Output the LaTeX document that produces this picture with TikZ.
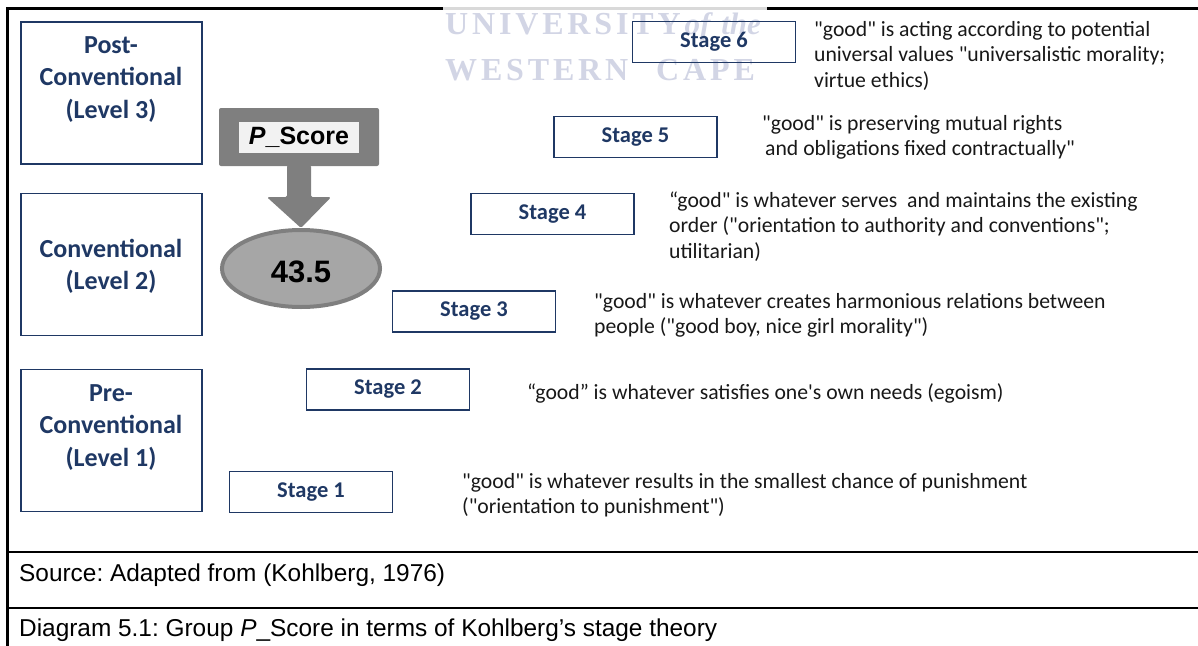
\documentclass[tikz,border=0pt]{standalone}
\usepackage{fontspec}
\setmainfont{Carlito}[Ligatures=TeXOff]
\newfontfamily\arialfont{Liberation Sans}[Ligatures=TeXOff]
\newfontfamily\wmfont{Liberation Serif}[LetterSpace=12]
\newfontfamily\wmitalic{Liberation Serif}[Ligatures=TeXOff]
\usetikzlibrary{calc,shapes.geometric}

\definecolor{navy}{RGB}{31,56,100}
\definecolor{ink}{RGB}{24,24,24}
\definecolor{calloutgray}{RGB}{127,127,127}
\definecolor{ovalgray}{RGB}{166,166,166}
\definecolor{labelgray}{RGB}{242,242,242}
\definecolor{wmcolor}{RGB}{210,213,229}

% several lines, first-line baseline as the node baseline
\newcommand{\stacklines}[2]{\begin{tabular}[t]{@{}#1@{}}#2\end{tabular}}

\tikzset{
  levelbox/.style={draw=navy, line width=1.8, minimum width=181, minimum height=142, inner sep=0},
  leveltext/.style={text=navy, inner sep=0, font=\bfseries\fontsize{26}{32.5}\selectfont},
  stagebox/.style={draw=navy, line width=1.8, minimum width=163, minimum height=41, inner sep=0,
    text=navy, font=\bfseries\fontsize{22.5}{27}\selectfont},
  desc/.style={text=ink, inner sep=0, anchor=base west, font=\fontsize{21.7}{25.8}\selectfont},
  footer/.style={text=black, inner sep=0, anchor=base west, font=\arialfont\fontsize{24.4}{29}\selectfont},
  wm/.style={text=wmcolor, inner sep=0, anchor=base west, font=\wmfont\bfseries\fontsize{32}{32}\selectfont},
  frameline/.style={draw=black, line cap=rect}
}

\begin{document}
\frenchspacing
\begin{tikzpicture}[x=1pt,y=-1pt]
\useasboundingbox (0,0) rectangle (1198,645);

% table frame
\draw[frameline, line width=3] (7,645) -- (7,8) -- (1198,8);
\draw[frameline, line width=2.5] (7,552) -- (1198,552);
\draw[frameline, line width=2.5] (7,608) -- (1198,608);

% faint watermark
\fill[white, opacity=0.85] (443,0) rectangle (767,84);
\node[wm] (wm1) at (445,34) {UNIVERSITY\hspace{4pt}{\wmitalic\bfseries\itshape\fontsize{31}{31}\selectfont of\hspace{3pt} the}};
\node[wm] (wm2) at (445,80) {WESTERN\hspace{28pt}CAPE};

% levels
\node[levelbox] (lv3) at (111.5,93) {};
\node[leveltext, anchor=base] (lv3t) at (111,53) {\stacklines{c}{Post-\\Conventional\\(Level 3)}};
\node[levelbox] (lv2) at (111.5,264.5) {};
\node[leveltext, anchor=base] (lv2t) at (111,257) {\stacklines{c}{Conventional\\(Level 2)}};
\node[levelbox] (lv1) at (111.5,440.5) {};
\node[leveltext, anchor=base] (lv1t) at (111,401) {\stacklines{c}{Pre-\\Conventional\\(Level 1)}};

% stages
\node[stagebox] (s1) at (311,492) {Stage 1};
\node[stagebox] (s2) at (388,389.5) {Stage 2};
\node[stagebox] (s3) at (474,311.5) {Stage 3};
\node[stagebox] (s4) at (552.5,214) {Stage 4};
\node[stagebox] (s5) at (635.5,137) {Stage 5};
\node[stagebox] (s6) at (714,42) {Stage 6};

% descriptions
\node[desc] (d6) at (814,36) {\stacklines{l}{"good" is acting according to potential\\universal values "universalistic morality;\\virtue ethics)}};
\node[desc] (d5) at (762,130) {\stacklines{l}{"good" is preserving mutual rights\\\hspace*{3pt}and obligations fixed contractually"}};
\node[desc] (d4) at (669,207) {\stacklines{l}{“good" is whatever serves\ \ and maintains the existing\\order ("orientation to authority and conventions";\\utilitarian)}};
\node[desc] (d3) at (594,308) {\stacklines{l}{"good" is whatever creates harmonious relations between\\people ("good boy, nice girl morality")}};
\node[desc] (d2) at (527,399) {“good” is whatever satisfies one's own needs (egoism)};
\node[desc] (d1) at (462,488) {\stacklines{l}{"good" is whatever results in the smallest chance of punishment\\("orientation to punishment")}};

% P_Score callout and score
\node[fill=calloutgray, rounded corners=2, minimum width=160, minimum height=58, inner sep=0] (pscore) at (299,137) {};
\node[fill=labelgray, minimum width=120, minimum height=31, inner sep=0,
  font=\arialfont\bfseries\fontsize{25}{30}\selectfont] (pslabel) at (299,137.5) {\textit{P}\_Score};
\node[ellipse, draw=calloutgray, fill=ovalgray, line width=4, minimum width=158, minimum height=77, inner sep=0,
  text height=28, font=\arialfont\bfseries\fontsize{31}{36}\selectfont] (score) at (301,268.5) {43.5};
\fill[calloutgray, rounded corners=1.5]
  ($(pscore.south)+(-12,-1)$) -- ($(pscore.south)+(-12,31)$) -- ($(pscore.south)+(-32,31)$)
  -- (score.north)
  -- ($(pscore.south)+(32,31)$) -- ($(pscore.south)+(12,31)$) -- ($(pscore.south)+(12,-1)$) -- cycle;

% footer
\node[footer] (src) at (19,581) {Source: Adapted from (Kohlberg, 1976)};
\node[footer] (cap) at (19,636) {Diagram 5.1: Group \textit{P}\_Score in terms of Kohlberg’s stage theory};
\end{tikzpicture}
\end{document}
